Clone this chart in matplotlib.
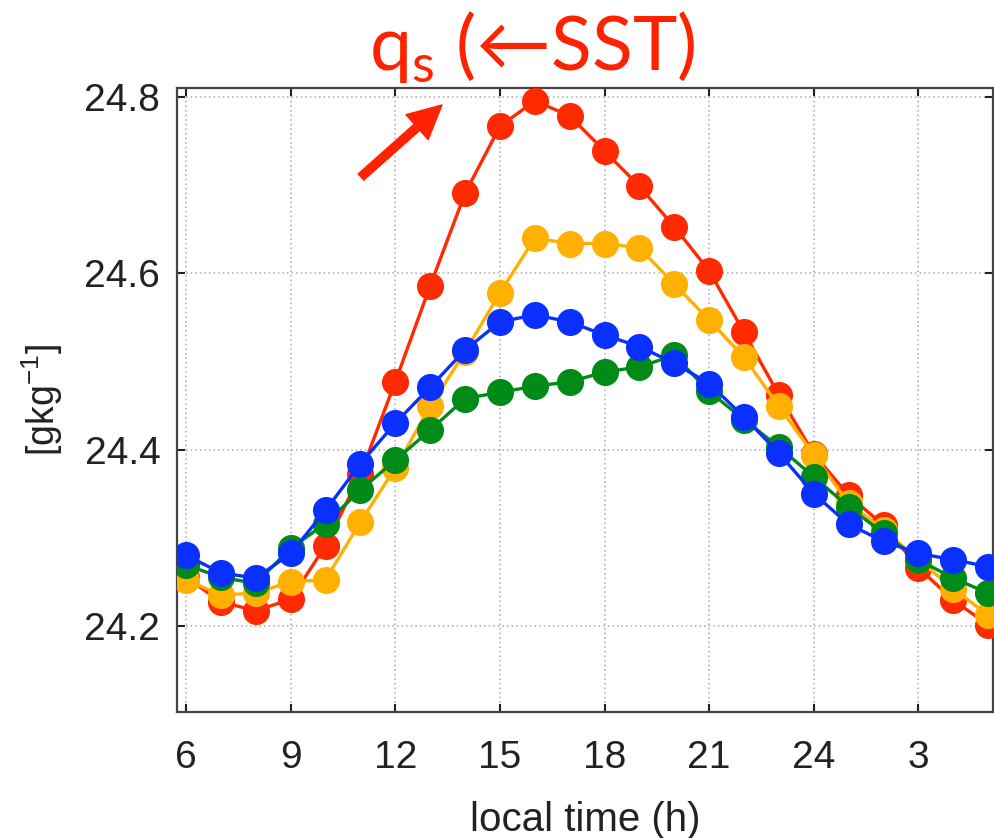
import matplotlib
matplotlib.use("Agg")
import matplotlib.pyplot as plt
import numpy as np

# local time (h), 6 .. 29 (= 5 next day)
hours = list(range(6, 30))

# qs values [g/kg]
q_red = [24.255, 24.227, 24.217, 24.230, 24.291, 24.372, 24.477, 24.586, 24.691, 24.767,
         24.796, 24.779, 24.739, 24.699, 24.653, 24.603, 24.533, 24.462, 24.395, 24.348,
         24.314, 24.266, 24.229, 24.201]
q_yellow = [24.252, 24.235, 24.237, 24.250, 24.252, 24.318, 24.379, 24.449, 24.511, 24.578,
            24.640, 24.634, 24.634, 24.629, 24.588, 24.547, 24.505, 24.449, 24.394, 24.339,
            24.309, 24.275, 24.242, 24.212]
q_green = [24.269, 24.255, 24.248, 24.288, 24.316, 24.354, 24.388, 24.422, 24.458, 24.465,
           24.472, 24.477, 24.488, 24.494, 24.507, 24.466, 24.434, 24.403, 24.369, 24.335,
           24.305, 24.275, 24.254, 24.237]
q_blue = [24.280, 24.260, 24.254, 24.282, 24.331, 24.384, 24.430, 24.471, 24.513, 24.545,
          24.553, 24.545, 24.530, 24.517, 24.498, 24.475, 24.437, 24.396, 24.350, 24.315,
          24.296, 24.282, 24.275, 24.267]

xticks = [6, 9, 12, 15, 18, 21, 24, 27]
xticklabels = ["6", "9", "12", "15", "18", "21", "24", "3"]
yticks = [24.2, 24.4, 24.6, 24.8]

plt.rcParams["font.family"] = ["Liberation Sans", "DejaVu Sans"]

fig = plt.figure(figsize=(9.94, 8.38), dpi=100)
ax = fig.add_axes([177 / 994, 1 - 712 / 838, (993 - 177) / 994, (712 - 88) / 838])

series = [(q_red, "#ff2a00"), (q_yellow, "#ffb000"), (q_green, "#008a18"), (q_blue, "#0a30ff")]
for vals, col in series:
    ax.plot(hours, vals, "-o", color=col, lw=2.4, ms=19.5, mec=col, mew=0, zorder=3)

ax.set_xlim(5.74, 29.14)
ax.set_ylim(24.102, 24.8106)
ax.set_xticks(xticks)
ax.set_xticklabels(xticklabels)
ax.set_yticks(yticks)
ax.grid(True, linestyle=(0, (1, 2)), color="#a8a8a8", lw=1.1)
ax.tick_params(direction="in", length=6, width=1.5, top=True, right=True,
               labelsize=28, colors="#222222")
ax.tick_params(axis="x", pad=20)
ax.tick_params(axis="y", pad=12)
for sp in ax.spines.values():
    sp.set_linewidth(1.6)
    sp.set_color("#444444")

ax.set_xlabel("local time (h)", fontsize=29, labelpad=18, color="#222222")
ax.set_ylabel(r"[gkg$^{\mathregular{-1}}$]", fontsize=27, labelpad=14, color="#222222")

# red annotation on top
red = "#ff2200"
fig.text(532 / 994, 1 - 70 / 838, r"q$_{\mathregular{s}}$ (←SST)", color=red,
         fontsize=54, ha="center", va="baseline", family=["Lato", "DejaVu Sans"])
ax.annotate("", xy=(442 / 994, 1 - 105 / 838), xycoords="figure fraction",
            xytext=(361 / 994, 1 - 177 / 838), textcoords="figure fraction",
            arrowprops=dict(color=red, width=6, headwidth=24, headlength=24, shrink=0),
            annotation_clip=False)

fig.savefig("out.png", dpi=100)
